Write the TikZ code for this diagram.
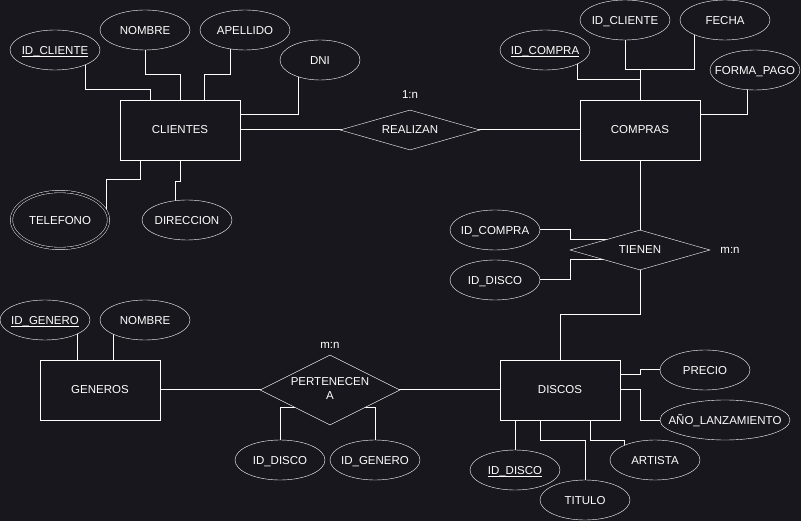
\documentclass[tikz,border=0pt]{standalone}
\usepackage{fontspec}
\setmainfont{Liberation Sans}
\usetikzlibrary{shapes.geometric}
\definecolor{bg}{RGB}{24,23,29}
\pgfdeclarelayer{back}
\pgfdeclarelayer{lines}
\pgfsetlayers{back,lines,main}
\newcommand\mytxt[1]{\makebox[0pt]{#1}}
\newcommand\ulx[1]{\setbox0\hbox{#1}\rlap{\rule[-2.35pt]{\wd0}{0.85pt}}\box0}
\begin{document}
\begin{tikzpicture}[x=1pt,y=-1pt,
  font=\fontsize{11.5}{14}\selectfont, line width=1pt,
  every node/.style={text=white},
  ent/.style={draw=white, fill=bg, rectangle, minimum width=120pt, minimum height=60pt, inner sep=0pt},
  attr/.style={draw=white, fill=bg, ellipse, minimum width=90pt, minimum height=40pt, inner sep=0pt, text height=8.3pt, text depth=0pt},
  rel/.style={draw=white, fill=bg, diamond, minimum width=140pt, minimum height=40pt, inner sep=0pt},
  multi/.style={attr, double=bg, double distance=2pt, minimum width=97pt, minimum height=57pt},
  card/.style={inner sep=0pt},
  conn/.style={draw=white, line width=1pt}]
\useasboundingbox (0,0) rectangle (801,521);
\begin{pgfonlayer}{back}
  \fill[bg] (0,0) rectangle (801,521);
\end{pgfonlayer}

% CLIENTES
\node[ent] (cli) at (180,130) {CLIENTES};
\node[attr] (idcl) at (55,50) {\mytxt{\ulx{ID\_CLIENTE}}};
\node[attr] (nom1) at (145,30) {\mytxt{NOMBRE}};
\node[attr] (ape) at (245,30) {\mytxt{APELLIDO}};
\node[attr, minimum width=80pt] (dni) at (320,60) {\mytxt{DNI}};
\node[multi] (tel) at (60,220) {\mytxt{TELEFONO}};
\node[attr] (dir) at (187,220) {\mytxt{DIRECCION}};

% REALIZAN
\node[rel] (rea) at (410,130) {\mytxt{REALIZAN}};
\node[card] (c1) at (410,95) {1:n};

% COMPRAS
\node[ent] (com) at (640,130) {COMPRAS};
\node[attr] (idco) at (545,50) {\mytxt{\ulx{ID\_COMPRA}}};
\node[attr] (idcl2) at (625,20) {\mytxt{ID\_CLIENTE}};
\node[attr] (fec) at (725,20) {\mytxt{FECHA}};
\node[attr] (fp) at (755,70) {\mytxt{FORMA\_PAGO}};

% TIENEN
\node[rel] (tie) at (640,250) {\mytxt{TIENEN}};
\node[card] (c2) at (730,250) {m:n};
\node[attr] (idco2) at (495,230) {\mytxt{ID\_COMPRA}};
\node[attr] (idd2) at (495,280) {\mytxt{ID\_DISCO}};

% DISCOS
\node[ent] (dis) at (560,390) {DISCOS};
\node[attr] (pre) at (705,370) {\mytxt{PRECIO}};
\node[attr, minimum width=130pt] (ano) at (725,420) {\mytxt{AÑO\_LANZAMIENTO}};
\node[attr] (art) at (655,460) {\mytxt{ARTISTA}};
\node[attr] (idd) at (515,470) {\mytxt{\ulx{ID\_DISCO}}};
\node[attr] (tit) at (585,500) {\mytxt{TITULO}};

% GENEROS
\node[ent] (gen) at (100,390) {GENEROS};
\node[attr] (idg) at (45,320) {\mytxt{\ulx{ID\_GENERO}}};
\node[attr] (nom2) at (145,320) {\mytxt{NOMBRE}};

% PERTENECEN A
\node[rel, minimum height=70pt] (per) at (330,390) {\mytxt{\begin{tabular}{@{}c@{}}PERTENECEN\\A\end{tabular}}};
\node[card] (c3) at (330,345) {m:n};
\node[attr] (idd3) at (280,460) {\mytxt{ID\_DISCO}};
\node[attr] (idg2) at (375,460) {\mytxt{ID\_GENERO}};

\begin{pgfonlayer}{lines}
  % clientes
  \draw[conn] (idcl.center) -| (85,90) -| (150,130) -- (cli.center);
  \draw[conn] (nom1.center) |- (180,75) -- (cli.center);
  \draw[conn] (ape.center) -| (230,75) -| (204,130) -- (cli.center);
  \draw[conn] (dni.center) -| (298,115) -| (cli.center);
  \draw[conn] (tel.center) -| (106,180) -| (140,130) -- (cli.center);
  \draw[conn] (dir.center) -| (175,182) -| (cli.center);
  \draw[conn] (cli.center) -- (rea.center);
  \draw[conn] (rea.center) -- (com.center);
  % compras
  \draw[conn] (idco.center) -| (577,80) -| (com.center);
  \draw[conn] (idcl2.center) |- (640,70) -- (com.center);
  \draw[conn] (fec.center) -| (694,70) -| (com.center);
  \draw[conn] (fp.center) -| (747,115) -| (com.center);
  \draw[conn] (com.center) -- (tie.center);
  % tienen
  \draw[conn] (idco2.center) -| (570,240) -| (tie.center);
  \draw[conn] (idd2.center) -| (570,260) -| (tie.center);
  \draw[conn] (tie.center) -- (640,315) -| (dis.center);
  % discos
  \draw[conn] (pre.center) -| (640,375) -| (dis.center);
  \draw[conn] (ano.center) -| (640,390) -- (dis.center);
  \draw[conn] (idd.center) |- (dis.center);
  \draw[conn] (tit.center) |- (540,440) |- (dis.center);
  \draw[conn] (art.center) -| (624,440) -| (590,390) -- (dis.center);
  \draw[conn] (dis.center) -- (per.center);
  \draw[conn] (per.center) -- (gen.center);
  % generos
  \draw[conn] (idg.center) -| (77,390) -- (gen.center);
  \draw[conn] (nom2.center) -| (113,390) -- (gen.center);
  % pertenecen
  \draw[conn] (idd3.center) |- (330,408) -- (per.center);
  \draw[conn] (idg2.center) |- (330,408) -- (per.center);
\end{pgfonlayer}
\end{tikzpicture}
\end{document}
